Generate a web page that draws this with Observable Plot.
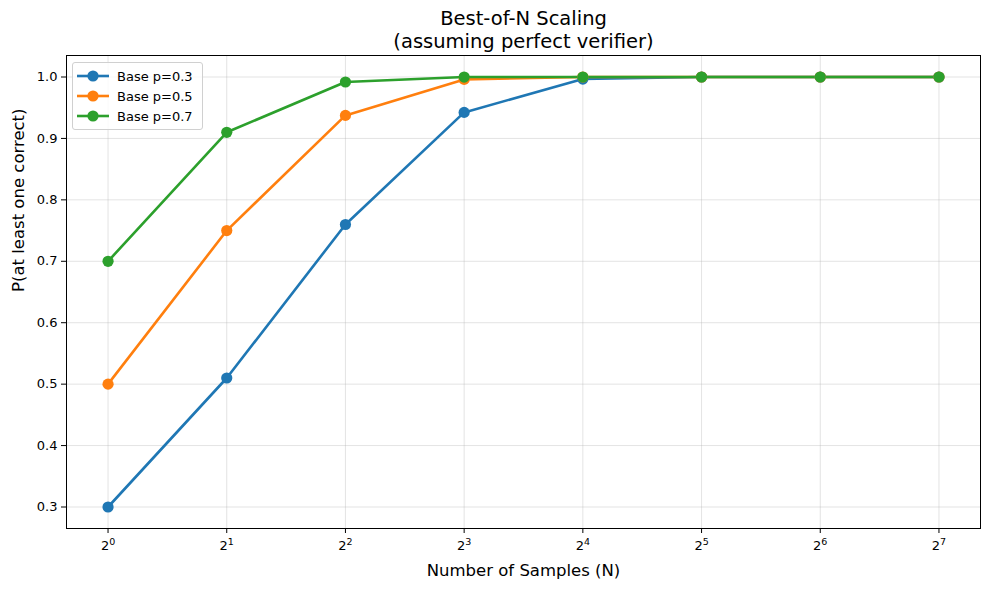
<!DOCTYPE html>
<html>
<head>
<meta charset="utf-8">
<script src="https://cdn.jsdelivr.net/npm/d3@7"></script>
<script src="https://cdn.jsdelivr.net/npm/@observablehq/plot@0.6"></script>
<style>
  body { margin: 0; background: #fff; font-family: "DejaVu Sans", sans-serif; }
  #wrap { position: relative; width: 989px; height: 590px; }
  #legend { position: absolute; left: 72px; top: 62px; width: 129px; height: 66px;
    border: 1px solid #d0d0d0; border-radius: 3px; background: rgba(255,255,255,0.8); }
  .row { position: absolute; left: 0; height: 20px; display: flex; align-items: center; font-size: 13px; color: #000; }
  .row svg { margin-left: 4px; margin-right: 8px; }
</style>
</head>
<body>
<div id="wrap"></div>
<script>
const N = [1, 2, 4, 8, 16, 32, 64, 128];
const p03 = [0.3, 0.51, 0.7599, 0.9424, 0.9967, 0.99999, 1.0, 1.0];
const p05 = [0.5, 0.75, 0.9375, 0.9961, 0.99998, 1.0, 1.0, 1.0];
const p07 = [0.7, 0.91, 0.9919, 0.99993, 1.0, 1.0, 1.0, 1.0];
const seriesNames = ["Base p=0.3", "Base p=0.5", "Base p=0.7"];
const seriesColors = ["#1f77b4", "#ff7f0e", "#2ca02c"];
const yTicks = [0.3, 0.4, 0.5, 0.6, 0.7, 0.8, 0.9, 1.0];

const seriesValues = [p03, p05, p07];
const data = [];
seriesValues.forEach((vals, i) => vals.forEach((v, j) => data.push({n: N[j], v, s: seriesNames[i]})));

const fmtPow = d => "2^" + Math.round(Math.log2(d));

const chart = Plot.plot({
  width: 989, height: 590,
  marginLeft: 66, marginRight: 9, marginTop: 55, marginBottom: 62,
  style: {fontFamily: "DejaVu Sans, sans-serif", fontSize: "13px", color: "#000", background: "#fff"},
  x: {type: "log", base: 2, domain: [Math.pow(2, -0.35), Math.pow(2, 7.35)]},
  y: {domain: [0.265, 1.035]},
  color: {domain: seriesNames, range: seriesColors},
  marks: [
    Plot.gridX(N, {stroke: "#b0b0b0", strokeOpacity: 0.35, strokeWidth: 1}),
    Plot.gridY(yTicks, {stroke: "#b0b0b0", strokeOpacity: 0.35, strokeWidth: 1}),
    Plot.axisX(N, {tickFormat: fmtPow, tickSize: 5, tickPadding: 7, label: null, fontSize: 13}),
    Plot.axisY(yTicks, {tickFormat: d3.format(".1f"), tickSize: 5, tickPadding: 4, label: null, fontSize: 13}),
    Plot.line(data, {x: "n", y: "v", stroke: "s", z: "s", strokeWidth: 2.6}),
    Plot.dot(data, {x: "n", y: "v", fill: "s", r: 5.6}),
    Plot.frame({stroke: "#000", strokeWidth: 1}),
    Plot.text(["Best-of-N Scaling"], {frameAnchor: "top", dy: -44, fontSize: 19.5}),
    Plot.text(["(assuming perfect verifier)"], {frameAnchor: "top", dy: -21, fontSize: 19.5}),
    Plot.text(["Number of Samples (N)"], {frameAnchor: "bottom", dy: 47, fontSize: 16.5}),
    Plot.text(["P(at least one correct)"], {frameAnchor: "left", dx: -48, rotate: -90, fontSize: 16.5})
  ]
});

// render exponents as superscripts
chart.querySelectorAll('g[aria-label="x-axis tick label"] text').forEach(t => {
  const s = t.textContent;
  if (s.includes("^")) {
    const [b, e] = s.split("^");
    t.textContent = "";
    const t1 = document.createElementNS("http://www.w3.org/2000/svg", "tspan");
    t1.textContent = b;
    const t2 = document.createElementNS("http://www.w3.org/2000/svg", "tspan");
    t2.textContent = e;
    t2.setAttribute("dy", "-0.45em");
    t2.setAttribute("font-size", "9.5");
    t.appendChild(t1); t.appendChild(t2);
  }
});

const wrap = document.getElementById("wrap");
wrap.appendChild(chart);

const legend = document.createElement("div");
legend.id = "legend";
seriesNames.forEach((name, i) => {
  const row = document.createElement("div");
  row.className = "row";
  row.style.top = (3 + i * 20) + "px";
  row.innerHTML = `<svg width="32" height="14"><line x1="0" y1="7" x2="32" y2="7" stroke="${seriesColors[i]}" stroke-width="2.6"/><circle cx="16" cy="7" r="5.6" fill="${seriesColors[i]}"/></svg><span>${name}</span>`;
  legend.appendChild(row);
});
wrap.appendChild(legend);
</script>
</body>
</html>
